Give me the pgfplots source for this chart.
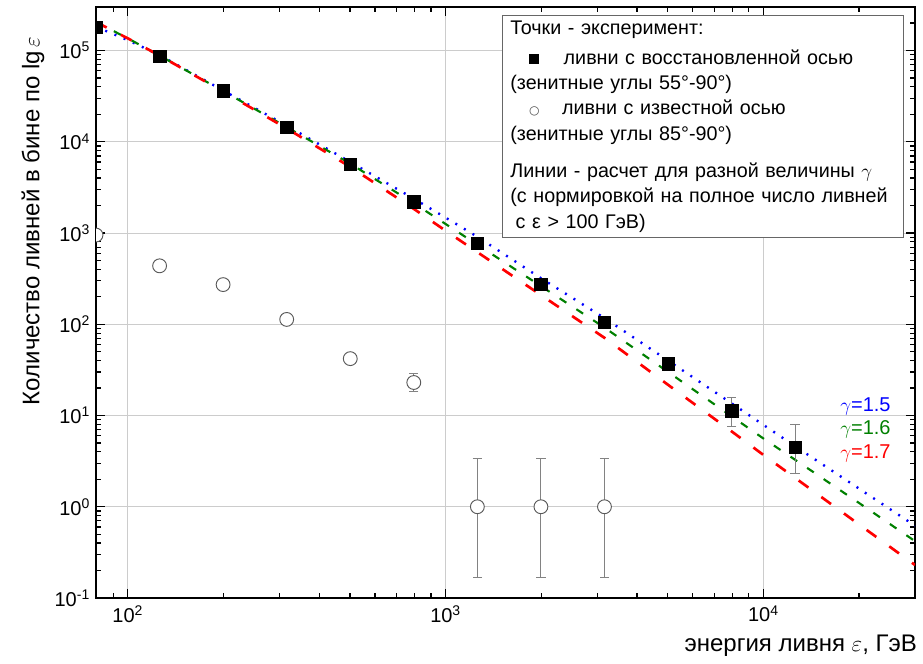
\documentclass[border=0pt]{standalone}
\usepackage{fontspec}
\setmainfont{Liberation Sans}
\newfontfamily\dejavu{DejaVu Sans}
\usepackage{pgfplots}
\usepackage{pgfplotstable}
\pgfplotsset{compat=1.18}

\definecolor{cblue}{RGB}{0,0,255}
\definecolor{cgreen}{RGB}{0,128,0}
\definecolor{cred}{RGB}{255,0,0}
\definecolor{errgray}{RGB}{130,130,130}

% showers with reconstructed axis
\pgfplotstableread{
x y ep em
79.43 1.8e5 0 0
125.9 8.7e4 0 0
199.5 3.6e4 0 0
316.2 1.45e4 0 0
501.2 5.7e3 0 0
794.3 2.2e3 0 0
1258.9 770 0 0
1995.3 275 0 0
3162.3 105 0 0
5011.9 37 6 5.5
7943.3 11.2 4.6 3.6
12589 4.5 3.5 2.2
}\squares

% showers with known axis
\pgfplotstableread{
x y ep em
79.43 950 0 0
125.9 437 35 35
199.5 272 25 25
316.2 113 12 12
501.2 42 5 5
794.3 23 5.7 4.8
1258.9 1 2.36 0.83
1995.3 1 2.36 0.83
3162.3 1 2.36 0.83
}\circles

% calculated curves
\pgfplotstableread{
x blue green red
79.43 1.82e5 2.05e5 2.05e5
100 1.30e5 1.36e5 1.36e5
125.9 8.9e4 8.8e4 8.8e4
199.5 3.65e4 3.6e4 3.55e4
316.2 1.5e4 1.45e4 1.4e4
501.2 6.0e3 5.75e3 5.3e3
794.3 2.38e3 2.12e3 1.84e3
1000 1475 1256 1060
1258.9 910 745 617
1995.3 320 262 209
3162.3 117 92 71
5011.9 40 30 21.7
7943.3 13.6 9.8 6.7
10000 7.9 5.6 3.7
12589 4.6 3.27 2.07
20000 1.58 1.1 0.64
30000 0.62 0.42 0.23
}\curves

\begin{document}
\begin{tikzpicture}
\begin{axis}[
  xmode=log, ymode=log,
  scale only axis,
  width=614.25pt, height=443.25pt,
  xmin=79.43, xmax=30000, ymin=0.1, ymax=3e5,
  axis line style={line width=1.2pt},
  tick align=inside,
  major tick length=7pt, minor tick length=4pt,
  every tick/.style={black, line width=0.9pt},
  grid=major,
  major grid style={black!20, line width=0.7pt},
  xtick={100,1000,10000},
  xticklabels={10\textsuperscript{2},10\textsuperscript{3},10\textsuperscript{4}},
  minor xtick={90,200,300,400,500,600,700,800,900,2000,3000,4000,5000,6000,7000,8000,9000,20000,30000},
  ytick={0.1,1,10,100,1000,10000,100000},
  yticklabels={10\textsuperscript{-1},10\textsuperscript{0},10\textsuperscript{1},10\textsuperscript{2},10\textsuperscript{3},10\textsuperscript{4},10\textsuperscript{5}},
  minor ytick={0.2,0.3,0.4,0.5,0.6,0.7,0.8,0.9,2,3,4,5,6,7,8,9,20,30,40,50,60,70,80,90,200,300,400,500,600,700,800,900,2000,3000,4000,5000,6000,7000,8000,9000,20000,30000,40000,50000,60000,70000,80000,90000,200000,300000},
  tick label style={font=\fontsize{15}{17}\selectfont},
  xticklabel style={yshift=-2pt},
  yticklabel style={xshift=-1pt},
  label style={font=\fontsize{18}{20}\selectfont},
  xlabel={энергия ливня $\varepsilon$, ГэВ},
  x label style={at={(axis description cs:1.008,-0.0812)}, anchor=east},
  ylabel={Количество ливней в бине по lg\,$\varepsilon$},
  y label style={at={(axis description cs:-0.0769,0.638)}, anchor=center},
  clip=true,
  clip marker paths=true,
]
\addplot[cblue, line width=1.8pt, dash pattern=on 1.5pt off 6pt] table[x=x, y=blue] {\curves};
\addplot[cgreen, line width=1.6pt, dash pattern=on 6pt off 9pt] table[x=x, y=green] {\curves};
\addplot[cred, line width=2pt, dash pattern=on 9pt off 12pt] table[x=x, y=red] {\curves};

\addplot[only marks, mark=*, mark size=5.2pt,
  mark options={fill=white, draw=black!65, line width=0.7pt},
  error bars/.cd, y dir=both, y explicit,
  error bar style={errgray, line width=0.7pt},
  error mark options={rotate=90, mark size=3.5pt, errgray, line width=0.7pt}]
  table[x=x, y=y, y error plus=ep, y error minus=em] {\circles};

\addplot[only marks, mark=square*, mark size=4.7pt,
  mark options={fill=black, draw=black},
  error bars/.cd, y dir=both, y explicit,
  error bar style={errgray, line width=0.7pt},
  error mark options={rotate=90, mark size=3.5pt, errgray, line width=0.7pt}]
  table[x=x, y=y, y error plus=ep, y error minus=em] {\squares};

\node[anchor=east, text=cblue, font=\fontsize{15}{17}\selectfont] at (axis cs:26000,12.6) {$\gamma$=1.5};
\node[anchor=east, text=cgreen, font=\fontsize{15}{17}\selectfont] at (axis cs:26000,7.0) {$\gamma$=1.6};
\node[anchor=east, text=cred, font=\fontsize{15}{17}\selectfont] at (axis cs:26000,3.8) {$\gamma$=1.7};

\node[draw=black!60, fill=white, line width=0.6pt, anchor=north west,
  inner xsep=6pt, inner ysep=4pt, text width=289pt, align=left,
  font=\fontsize{14.8}{19}\selectfont] at (rel axis cs:0.4957,0.9865) {%
Точки - эксперимент:\\[3.5pt]
\hspace*{14pt}\rule{7.5pt}{7.5pt}\hspace{18.5pt}ливни с восстановленной осью\\
(зенитные углы 55°-90°)\\
\hspace*{14pt}\textcolor{black!70}{\fontsize{9}{9}\dejavu ○}\hspace{17pt}ливни с известной осью\\
(зенитные углы 85°-90°)\\[9pt]
Линии - расчет для разной величины $\gamma$\\
\mbox{(с нормировкой на полное число ливней}\\
\hspace*{4pt}с ε > 100 ГэВ)};
\end{axis}
\pgfresetboundingbox
\path ([xshift=-72pt,yshift=-49.5pt]current axis.south west) rectangle ([xshift=6pt,yshift=5.25pt]current axis.north east);
\end{tikzpicture}
\end{document}
